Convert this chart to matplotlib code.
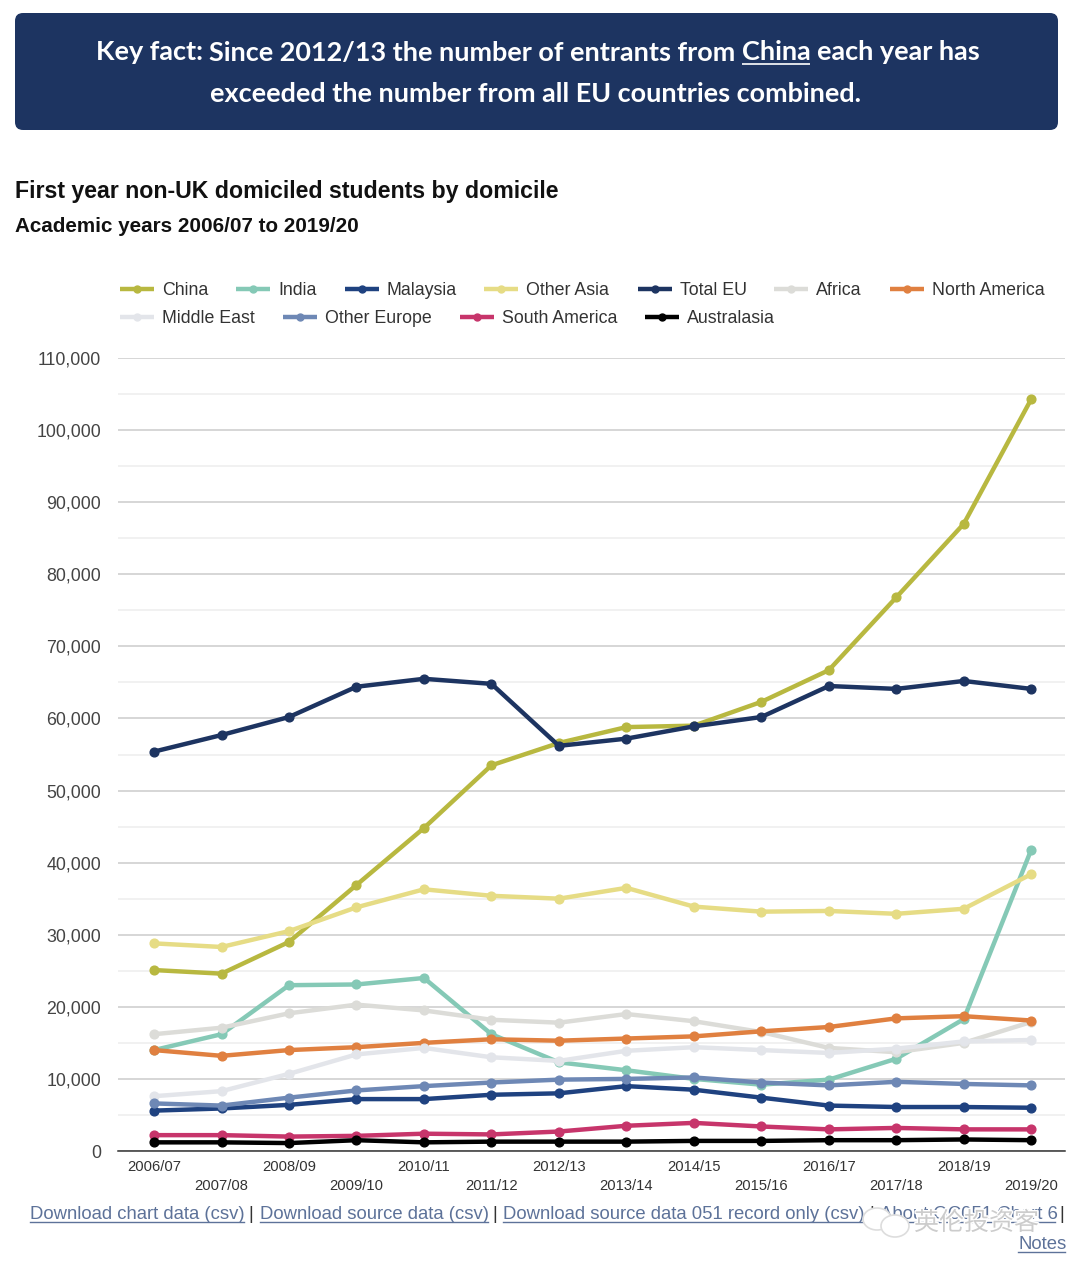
import matplotlib
matplotlib.use("Agg")
import matplotlib.pyplot as plt
import matplotlib.patheffects as pe
from matplotlib.patches import FancyBboxPatch, Ellipse
import numpy as np

W, H = 1080, 1271

years = ["2006/07", "2007/08", "2008/09", "2009/10", "2010/11", "2011/12", "2012/13",
         "2013/14", "2014/15", "2015/16", "2016/17", "2017/18", "2018/19", "2019/20"]

china = [25100, 24600, 29000, 36900, 44800, 53500, 56600, 58800, 59000, 62300, 66700, 76800, 87000, 104300]
india = [14000, 16200, 23000, 23100, 24000, 16200, 12300, 11200, 10000, 9200, 9900, 12800, 18300, 41800]
malaysia = [5600, 5900, 6400, 7200, 7200, 7800, 8000, 9000, 8500, 7400, 6300, 6100, 6100, 6000]
other_asia = [28800, 28300, 30500, 33800, 36300, 35400, 35000, 36500, 33900, 33200, 33300, 32900, 33600, 38400]
total_eu = [55400, 57700, 60200, 64400, 65500, 64800, 56200, 57200, 58900, 60200, 64500, 64100, 65200, 64100]
africa = [16200, 17100, 19100, 20300, 19500, 18200, 17800, 19000, 18000, 16500, 14300, 13700, 15000, 17900]
north_america = [14000, 13200, 14000, 14400, 15000, 15500, 15300, 15600, 15900, 16600, 17200, 18400, 18700, 18100]
middle_east = [7600, 8300, 10700, 13400, 14300, 13000, 12500, 13900, 14400, 14000, 13600, 14200, 15200, 15400]
other_europe = [6600, 6300, 7400, 8400, 9000, 9500, 9900, 10000, 10200, 9500, 9100, 9600, 9300, 9100]
south_america = [2200, 2200, 2000, 2100, 2400, 2300, 2700, 3500, 3900, 3400, 3000, 3200, 3000, 3000]
australasia = [1200, 1200, 1100, 1500, 1200, 1300, 1300, 1300, 1400, 1400, 1500, 1500, 1600, 1500]

series = [
    ("China", china, "#b8b840"),
    ("India", india, "#85c9b6"),
    ("Malaysia", malaysia, "#1f4280"),
    ("Other Asia", other_asia, "#e6dc85"),
    ("Total EU", total_eu, "#1d3461"),
    ("Africa", africa, "#dcdcd8"),
    ("North America", north_america, "#e08040"),
    ("Middle East", middle_east, "#e3e5ea"),
    ("Other Europe", other_europe, "#6e88b5"),
    ("South America", south_america, "#c7356b"),
    ("Australasia", australasia, "#000000"),
]

# legend swatch left edge and row, in pixels
legend_pos = [(120, 289), (236, 289), (345, 289), (484, 289), (638, 289), (774, 289), (890, 289),
              (120, 317), (283, 317), (460, 317), (645, 317)]

plt.rcParams["font.family"] = ["Liberation Sans", "DejaVu Sans"]

fig = plt.figure(figsize=(W / 100, H / 100), dpi=100)

# overlay in pixel coordinates for the page furniture
page = fig.add_axes([0, 0, 1, 1], zorder=0)
page.set_xlim(0, W)
page.set_ylim(H, 0)
page.axis("off")

# --- Chart ---
left, right, top, bottom = 118, 1065, 358, 1151
ax = fig.add_axes([left / W, 1 - bottom / H, (right - left) / W, (bottom - top) / H], zorder=1)
ax.patch.set_alpha(0)
x = np.arange(len(years))
for name, values, color in series:
    ax.plot(x, values, color=color, lw=3.2, marker="o", ms=6.3, clip_on=False, zorder=3)

ax.set_xlim(-0.534, 13.5)
ax.set_ylim(0, 110000)
ax.set_yticks(np.arange(0, 110001, 10000))
ax.set_yticks(np.arange(5000, 110000, 10000), minor=True)
ax.set_yticklabels([f"{v:,}" for v in range(0, 110001, 10000)], fontsize=12.8, color="#444444")
ax.grid(axis="y", which="major", color="#cccccc", lw=1.1)
ax.grid(axis="y", which="minor", color="#ededed", lw=1.1)
ax.set_axisbelow(True)
ax.tick_params(axis="y", which="both", length=0, pad=12)

# every other year label sits on a second row
ax.set_xticks(x[::2])
ax.set_xticklabels(years[::2], fontsize=10.6, color="#333333")
ax.set_xticks(x[1::2], minor=True)
ax.set_xticklabels(years[1::2], minor=True, fontsize=10.6, color="#333333")
ax.tick_params(axis="x", which="major", length=0, pad=6.2)
ax.tick_params(axis="x", which="minor", length=0, pad=19.8)

for s in ["top", "left", "right"]:
    ax.spines[s].set_visible(False)
ax.spines["bottom"].set_color("#333333")
ax.spines["bottom"].set_linewidth(1.1)

# --- Legend ---
for (name, values, color), (lx, ly) in zip(series, legend_pos):
    page.plot([lx, lx + 34], [ly, ly], color=color, lw=3.2, solid_capstyle="butt")
    page.plot([lx + 17], [ly], color=color, marker="o", ms=5)
    page.text(lx + 42, ly + 6, name, fontsize=12.8, color="#333333", va="baseline", ha="left")

# --- Key fact banner ---
page.add_patch(FancyBboxPatch((15, 13), 1043, 117, boxstyle="round,pad=0,rounding_size=8", lw=0,
                              fc="#1d3461"))

fig.canvas.draw()
renderer = fig.canvas.get_renderer()


def write_run(parts, xpos, ypos, size, color, family="Lato"):
    # lay out differently styled pieces one after another, return the end position
    for text, weight, underline in parts:
        t = page.text(xpos, ypos, text, fontsize=size, color=color, weight=weight, family=family,
                      va="baseline", ha="left")
        bb = t.get_window_extent(renderer)
        end = xpos + bb.width
        if underline:
            page.plot([xpos, end], [ypos + 3, ypos + 3], color=color, lw=1.2, solid_capstyle="butt")
        xpos = end + size * 0.32
    return xpos


write_run([("Key fact:", "bold", False),
           ("Since 2012/13 the number of entrants from", "bold", False),
           ("China", "bold", True),
           ("each year has", "bold", False)], 96, 60.5, 19.42, "white")
write_run([("exceeded the number from all EU countries combined.", "bold", False)], 210, 101.5, 19.42, "white")

# --- Titles ---
page.text(15, 198, "First year non-UK domiciled students by domicile", fontsize=16.7, weight="bold",
          color="#111111", va="baseline")
page.text(15, 232, "Academic years 2006/07 to 2019/20", fontsize=14.9, weight="bold",
          color="#111111", va="baseline")

# --- Download links ---
link = "#5d7299"
for text, lx, rx, ly in [("Download chart data (csv)", 30, 244, 1219),
                         ("Download source data (csv)", 260, 488, 1219),
                         ("Download source data 051 record only (csv)", 503, 864, 1219),
                         ("About OC051 Chart 6", 880, 1055, 1219),
                         ("Notes", 1018, 1065, 1249)]:
    page.text(lx, ly, text, fontsize=13.3, color=link, va="baseline")
    page.plot([lx, rx], [ly + 3, ly + 3], color=link, lw=1)
for sx, sy in [(251, 1219), (495, 1219), (872, 1219), (1062, 1219)]:
    page.text(sx, sy, "|", fontsize=13.3, color="#333333", va="baseline", ha="center")

# watermark over the links, white halo knocks out what is behind it
for cx, cy, ew, eh in [(877, 1219, 28, 22), (895, 1226, 28, 22)]:
    page.add_patch(Ellipse((cx, cy), ew, eh, fc="white", ec="#dddddd", lw=1.2, zorder=4))
page.text(914, 1223, "英伦投资客", fontsize=18, color="#cccccc", va="center", ha="left",
          family=["Noto Sans CJK SC", "DejaVu Sans"], zorder=5,
          path_effects=[pe.withStroke(linewidth=2, foreground="white")])

fig.savefig("out.png", dpi=100)
